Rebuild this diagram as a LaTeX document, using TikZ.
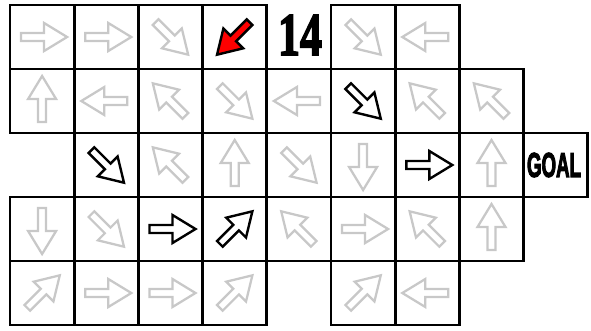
\documentclass[tikz,border=0pt]{standalone}
\usepackage{fontspec}
\newfontfamily\goalfont[BoldFeatures={FakeBold=4}]{Liberation Sans}
\newfontfamily\numfont[BoldFeatures={FakeBold=3}]{Liberation Serif}
\begin{document}
\begin{tikzpicture}[x=0.75pt,y=-0.75pt,
  cell/.style={draw=black,line width=2pt,minimum width=48.15pt,minimum height=48pt,inner sep=0pt,outer sep=0pt,fill=white},
  garr/.style={draw={rgb,255:red,200;green,200;blue,200},fill=white,line width=1.7pt,line join=miter},
  barr/.style={draw=black,fill=white,line width=1.8pt,line join=miter},
  rarr/.style={draw=black,fill=red,line width=1.8pt,line join=miter},
  arr/.pic={\path[pic actions] (-21,-4) -- (2,-4) -- (2,-14) -- (25,0) -- (2,14) -- (2,4) -- (-21,4) -- cycle;}]
\useasboundingbox (0,0) rectangle (591,330);
\fill[white] (0,0) rectangle (591,330);
\foreach \c/\r in {0/0,1/0,2/0,3/0,5/0,6/0,0/1,1/1,2/1,3/1,4/1,5/1,6/1,7/1,
  1/2,2/2,3/2,4/2,5/2,6/2,7/2,8/2,0/3,1/3,2/3,3/3,4/3,5/3,6/3,7/3,0/4,1/4,2/4,3/4,5/4,6/4}
{
  \node[cell] (c\c-\r) at ({10+64.2*(\c+0.5)},{5+64*(\r+0.5)}) {};
}
\foreach \c/\r/\a/\s in {
  0/0/0/garr, 1/0/0/garr, 2/0/-45/garr, 3/0/-135/rarr, 5/0/-45/garr, 6/0/180/garr,
  0/1/90/garr, 1/1/180/garr, 2/1/135/garr, 3/1/-45/garr, 4/1/180/garr, 5/1/-45/barr, 6/1/135/garr, 7/1/135/garr,
  1/2/-45/barr, 2/2/135/garr, 3/2/90/garr, 4/2/-45/garr, 5/2/-90/garr, 6/2/0/barr, 7/2/90/garr,
  0/3/-90/garr, 1/3/-45/garr, 2/3/0/barr, 3/3/45/barr, 4/3/135/garr, 5/3/0/garr, 6/3/135/garr, 7/3/90/garr,
  0/4/45/garr, 1/4/0/garr, 2/4/0/garr, 3/4/45/garr, 5/4/45/garr, 6/4/180/garr}
{
  \pic[rotate=\a,\s] at (c\c-\r) {arr};
}
\node[inner sep=0pt] (goal) at (554,165) {\resizebox{40.5pt}{18pt}{\goalfont\bfseries GOAL}};
\node[inner sep=0pt] (num) at (300,35) {\resizebox{33pt}{30pt}{\numfont\bfseries 14}};
\end{tikzpicture}
\end{document}
